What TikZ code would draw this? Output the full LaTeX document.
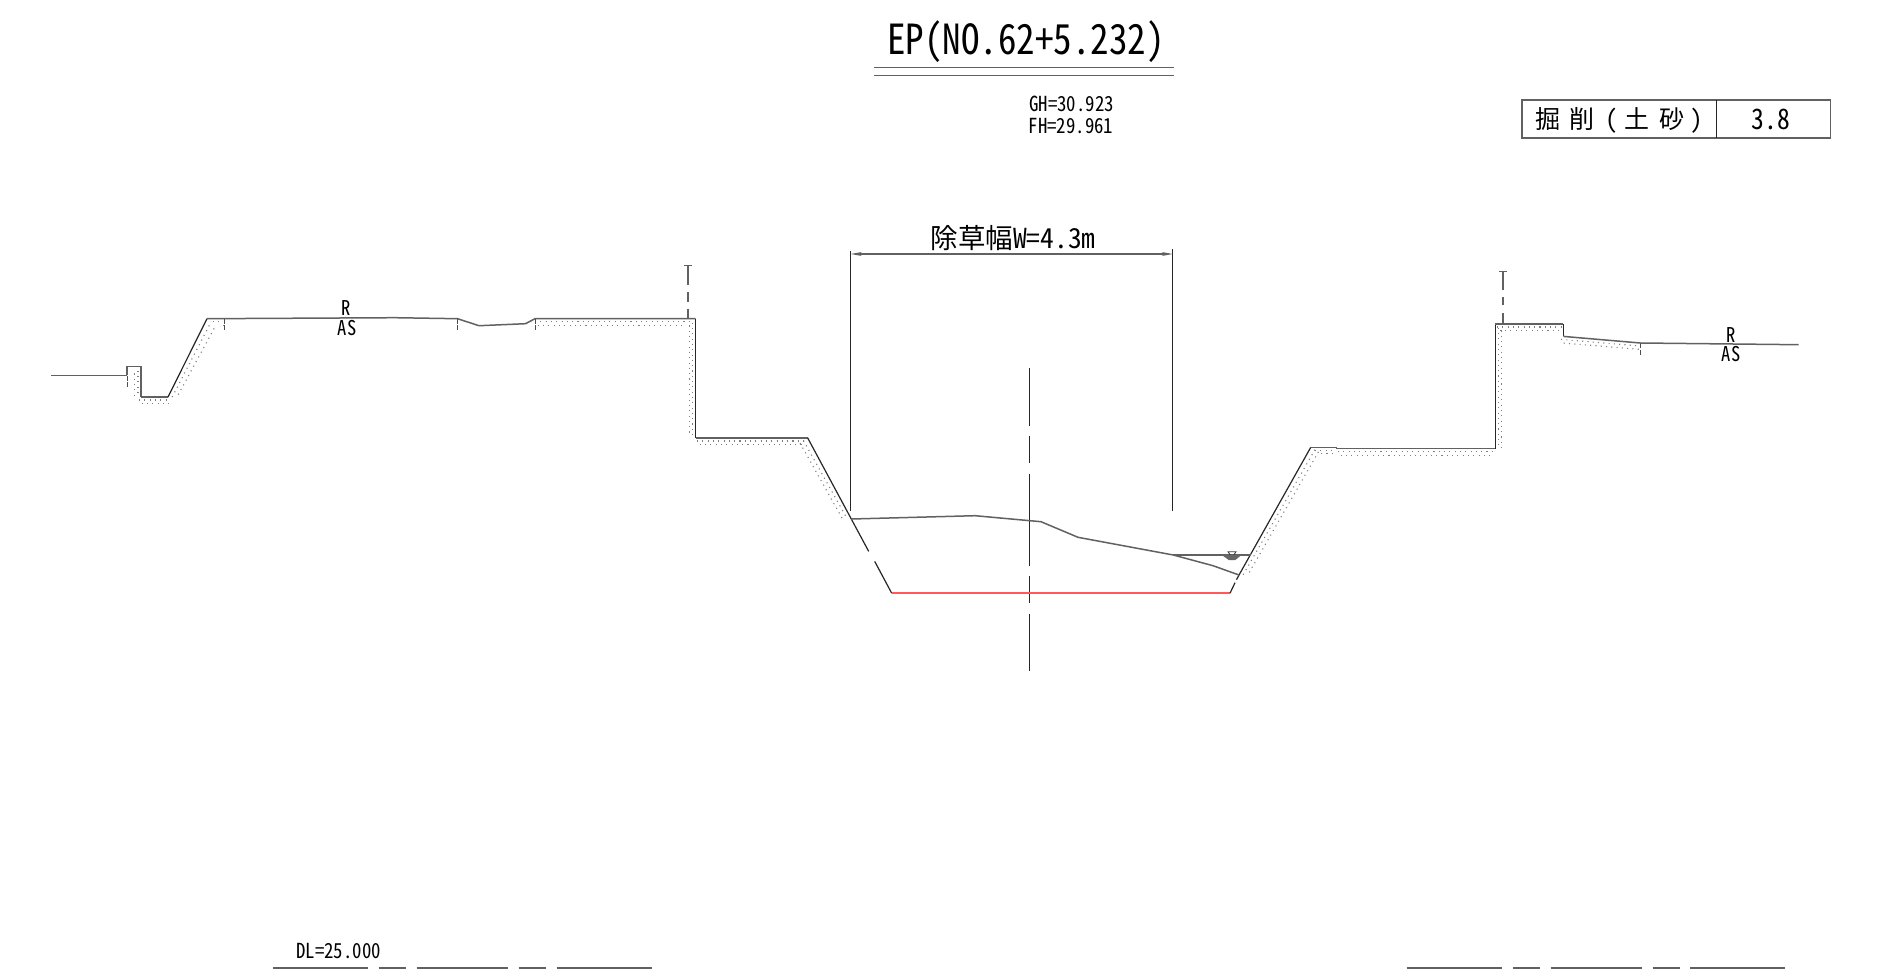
\documentclass[tikz,border=0pt]{standalone}
\usepackage{fontspec}
\setmainfont{Noto Sans CJK JP}[RawFeature={+hwid}]
\usetikzlibrary{arrows.meta}
\tikzset{
  gnd/.style={draw=black!62,line width=1.5pt},
  cut/.style={draw=black!85,line width=1.2pt},
  thinl/.style={draw=black!85,line width=1pt},
  tick/.style={draw=black!70,line width=.9pt,dash pattern=on 5pt off 1.5pt on 5pt off 1.5pt},
  dotsa/.style={draw=black!50,line width=1.1pt,dash pattern=on 1.1pt off 4.2pt},
  red line/.style={draw=red!65,line width=1.7pt},
  lab/.style={inner sep=0pt,text=black},
}
\begin{document}
\begin{tikzpicture}[x=1pt,y=-1pt]
\useasboundingbox (0,0) rectangle (1878,972);
% title
\node[lab,font=\fontsize{37}{40}\selectfont] (title) at (1026,42) {\scalebox{1}[1.12]{EP(NO.62+5.232)}};
\coordinate (ta) at (874.3,67.7); \coordinate (tb) at (1174,67.7);
\coordinate (tc) at (874.3,75.3); \coordinate (td) at (1174,75.3);
\draw[gnd] (ta) -- (tb); \draw[gnd] (tc) -- (td);
\node[lab,font=\fontsize{18.8}{20}\selectfont] (gh) at (1071.5,103.5) {\scalebox{1}[1.1]{GH=30.923}};
\node[lab,font=\fontsize{18.8}{20}\selectfont] (fh) at (1071,126.2) {\scalebox{1}[1.1]{FH=29.961}};
% table
\draw[gnd,line width=1.2pt] (1522,100) rectangle (1830.7,138);
\draw[thinl] (1716.3,100) -- (1716.3,138);
\node[lab,font=\fontsize{25}{28}\selectfont,anchor=west] (t1) at (1535.5,120.5) {掘\hspace{8.7pt}削\hspace{11.3pt}(\hspace{6.2pt}土\hspace{10pt}砂\hspace{6.3pt})};
\node[lab,font=\fontsize{25.6}{28}\selectfont] (t2) at (1771,119) {\scalebox{1}[1.1]{3.8}};
% dimension
\node[lab,font=\fontsize{27.5}{30}\selectfont] (dim) at (1013,238) {除草幅W=4.3m};
\coordinate (dl1) at (850.8,251); \coordinate (dl2) at (850.8,511);
\coordinate (dr1) at (1172.7,249); \coordinate (dr2) at (1172.7,511);
\draw[thinl] (dl1) -- (dl2); \draw[thinl] (dr1) -- (dr2);
\coordinate (da) at (850.8,254); \coordinate (db) at (1172.7,254);
\draw[gnd,line width=1.2pt,{Stealth[length=11pt,width=4pt]}-{Stealth[length=11pt,width=4pt]}] (da) -- (db);
% centre line
\draw[thinl,dash pattern=on 57.4pt off 10.6pt on 27pt off 10.7pt on 91.7pt off 10.3pt on 27.3pt off 10.7pt on 57.3pt] (1029,368.3) -- (1029,671.3);
\begin{scope}[yshift=-.7pt]
% dotted layers
\foreach \off/\ph in {3/0,6.4/2.6}{
 \draw[dotsa,dash phase=\ph pt] (139,396.3+\off) -- (170,396.3+\off);
 \draw[dotsa,dash phase=\ph pt] (168+\off*1.4,396.3) -- (207+\off*1.4,318+\off);
 \draw[dotsa,dash phase=\ph pt] (207+2*\off,318+\off) -- (224,318+\off);
 \draw[dotsa,dash phase=\ph pt] (535,318+\off) -- (692-\off,318+\off);
 \draw[dotsa,dash phase=\ph pt] (695.7-\off,322) -- (695.7-\off,434);
 \draw[dotsa,dash phase=\ph pt] (697,437.3+\off) -- (804,437.3+\off);
 \draw[dotsa,dash phase=\ph pt] (807.7-\off*1.4,440) -- (851.3-\off*1.4,518);
 \draw[dotsa,dash phase=\ph pt] (141-\off,370) -- (141-\off,396);
 \draw[dotsa,dash phase=\ph pt] (1239+\off*1.4,574) -- (1310.7+\off*1.4,449);
 \draw[dotsa,dash phase=\ph pt] (1312+\off,446.7+\off) -- (1336,446.7+\off);
 \draw[dotsa,dash phase=\ph pt] (1338,448+\off) -- (1492,448+\off);
 \draw[dotsa,dash phase=\ph pt] (1495.4+\off,327) -- (1495.4+\off,448);
 \draw[dotsa,dash phase=\ph pt] (1497,323.3+\off) -- (1562,323.3+\off);
 \draw[dotsa,dash phase=\ph pt] (1561,335.7+\off) -- (1640,342.3+\off);
}
% left ground
\coordinate (p1) at (51,374.7);\coordinate (p2) at (127,374.7);\coordinate (p3) at (127,365.7);
\coordinate (p4) at (141,365.7);\coordinate (p5) at (141,396.3);\coordinate (p6) at (168,396.3);
\coordinate (p7) at (207,318);\coordinate (p8) at (395,317);\coordinate (p9) at (457.5,318);
\coordinate (p10) at (479,325);\coordinate (p11) at (525.5,323);\coordinate (p12) at (535,318);
\coordinate (p13) at (695.7,318);\coordinate (p14) at (695.7,437.3);\coordinate (p15) at (807.7,437.3);
\coordinate (p16) at (851.3,518.3);
\draw[gnd] (p1) -- (p2);
\draw[gnd,line width=1.3pt,line join=miter] (p2) -- (p3) -- (p4) -- (p5);
\draw[gnd] (p5) -- (p6);
\draw[cut] (p6) -- (p7);
\draw[gnd,line join=miter] (p7) -- (p8) -- (p9) -- (p10) -- (p11) -- (p12) -- (p13);
\draw[cut,line width=1.4pt] (p13) -- (p14);
\draw[gnd] (p14) -- (p15);
\draw[cut] (p15) -- (p16);
% ticks
\draw[tick] (127,375) -- (127,386);
\draw[tick] (224,318) -- (224,330);
\draw[tick] (457.5,318) -- (457.5,330);
\draw[tick] (535,318) -- (535,330);
\draw[tick] (1640.4,342.3) -- (1640.4,355);
% fence marks
\draw[gnd,line width=1.2pt] (684,265) -- (692,265);
\draw[gnd,line width=1.4pt,dash pattern=on 19pt off 7pt on 10pt off 7pt on 10pt] (688,265) -- (688,318);
\draw[gnd,line width=1.2pt] (1499,270.7) -- (1507,270.7);
\draw[gnd,line width=1.4pt,dash pattern=on 19pt off 7pt on 8pt off 8pt on 11pt] (1503,270.7) -- (1503,323.3);
% channel
\coordinate (c1) at (851.3,518.3);\coordinate (c2) at (868.7,550.7);\coordinate (c3) at (874.7,560.7);
\coordinate (c4) at (891.7,592.5);\coordinate (c5) at (1230,592.5);\coordinate (c6) at (1235,582);
\coordinate (c7) at (1236.5,579);\coordinate (c8) at (1239,574.3);\coordinate (c9) at (1310.7,446.7);
\draw[cut] (c1) -- (c2); \draw[cut] (c3) -- (c4);
\draw[red line] (c4) -- (c5);
\draw[cut] (c5) -- (c6); \draw[cut] (c7) -- (c8); \draw[cut] (c8) -- (c9);
% ground in channel
\draw[gnd] (851.3,518.3) -- (975,515) -- (1041,521) -- (1078,536.6) -- (1173.3,554.3) -- (1213,565) -- (1239,574.3);
% water
\draw[gnd] (1173.3,554.3) -- (1251,554.3);
\draw[black!75,line width=.9pt] (1228,551) -- (1236,551) -- (1232,557) -- cycle;
\fill[black!60] (1222,554.5) -- (1241,554.5) -- (1237,558) -- (1235,559.5) -- (1229,559.5) -- (1227,558) -- cycle;
% right ground
\coordinate (r1) at (1310.7,446.7);\coordinate (r2) at (1336.5,446.7);\coordinate (r3) at (1336.5,448);
\coordinate (r4) at (1495.4,448);\coordinate (r5) at (1495.4,323.3);\coordinate (r6) at (1563.4,323.3);
\coordinate (r7) at (1563.4,335.7);\coordinate (r8) at (1640.4,342.3);\coordinate (r9) at (1798.6,344);
\draw[gnd] (r1) -- (r2) -- (r3) -- (r4);
\draw[cut,line width=1.4pt] (r4) -- (r5);
\draw[gnd] (r5) -- (r6);
\draw[cut,line width=1.4pt] (r6) -- (r7);
\draw[gnd] (r7) -- (r8) -- (r9);
\end{scope}
% labels
\node[lab,font=\fontsize{18.5}{20}\selectfont] (R1) at (346,308.5) {\scalebox{1}[1.1]{R}};
\node[lab,font=\fontsize{18.5}{20}\selectfont] (A1) at (347,328.5) {\scalebox{1}[1.1]{AS}};
\node[lab,font=\fontsize{18.5}{20}\selectfont] (R2) at (1731,335) {\scalebox{1}[1.1]{R}};
\node[lab,font=\fontsize{18.5}{20}\selectfont] (A2) at (1731,354.5) {\scalebox{1}[1.1]{AS}};
\node[lab,font=\fontsize{18.8}{20}\selectfont] (dl) at (338.5,951.5) {\scalebox{1}[1.1]{DL=25.000}};
% bottom rules
\foreach \a/\b in {273.3/368,378.7/405.7,416.7/508,518.5/545.7,556.7/651.7,1406.7/1502,1513/1540,1550.7/1642,1652.7/1679.7,1690.3/1785}
  \draw[gnd,line width=1.8pt] (\a,967.7) -- (\b,967.7);
\end{tikzpicture}
\end{document}
